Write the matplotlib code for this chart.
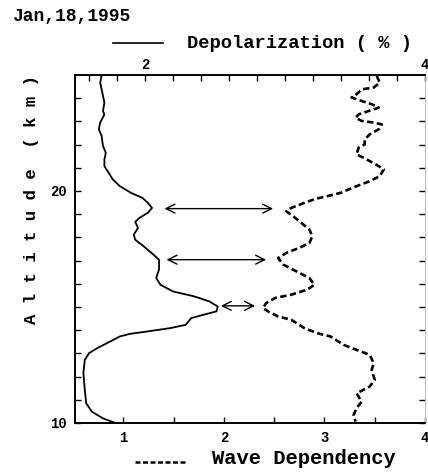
import numpy as np
import matplotlib.pyplot as plt
from matplotlib.lines import Line2D

FONT = ['Liberation Mono', 'DejaVu Sans Mono']

# depolarization (%) profile, read against the top axis
depol_alt = [25.0, 24.67, 24.38, 24.10, 23.81, 23.45, 23.30, 22.95, 22.66, 22.37,
             21.94, 21.65, 21.36, 21.07, 20.79, 20.50, 20.21, 19.92, 19.71, 19.49,
             19.27, 19.06, 18.84, 18.67, 18.41, 18.12, 17.90, 17.62, 17.26, 17.04,
             16.61, 16.25, 15.96, 15.67, 15.46, 15.24, 15.02, 14.81, 14.67, 14.52,
             14.23, 14.09, 13.94, 13.84, 13.73, 13.51, 13.23, 13.01, 12.72, 12.15,
             11.43, 10.85, 10.49, 10.20, 10.0]
depol_val = [1.69, 1.68, 1.69, 1.70, 1.71, 1.70, 1.71, 1.68, 1.67, 1.69,
             1.70, 1.72, 1.71, 1.71, 1.74, 1.77, 1.82, 1.90, 1.98, 2.02,
             2.05, 2.02, 1.96, 1.93, 1.95, 1.92, 1.93, 1.99, 2.06, 2.10,
             2.10, 2.08, 2.11, 2.20, 2.35, 2.46, 2.52, 2.51, 2.42, 2.33,
             2.29, 2.18, 2.01, 1.89, 1.82, 1.75, 1.66, 1.60, 1.57, 1.56,
             1.57, 1.58, 1.62, 1.70, 1.79]

# wave dependency profile, read against the bottom axis
wave_alt = [24.96, 24.67, 24.46, 24.38, 24.17, 24.03, 23.88, 23.74, 23.59, 23.45,
            23.30, 23.16, 23.02, 22.95, 22.87, 22.66, 22.44, 22.22, 22.01, 21.87,
            21.58, 21.43, 21.29, 21.07, 20.93, 20.64, 20.42, 20.21, 19.92, 19.78,
            19.66, 19.49, 19.27, 19.13, 18.91, 18.63, 18.34, 18.05, 17.76, 17.55,
            17.33, 17.11, 16.83, 16.54, 16.25, 15.96, 15.75, 15.53, 15.39, 15.17,
            14.95, 14.81, 14.59, 14.45, 14.09, 13.87, 13.73, 13.37, 13.15, 12.94,
            12.58, 12.29, 11.86, 11.57, 11.28, 10.92, 10.64, 10.35, 10.06]
wave_val = [3.52, 3.55, 3.49, 3.37, 3.32, 3.27, 3.37, 3.47, 3.54, 3.44,
            3.34, 3.31, 3.37, 3.49, 3.57, 3.54, 3.45, 3.40, 3.40, 3.34,
            3.32, 3.39, 3.45, 3.54, 3.59, 3.55, 3.45, 3.32, 3.16, 3.03,
            2.91, 2.80, 2.67, 2.62, 2.69, 2.77, 2.85, 2.88, 2.85, 2.75,
            2.62, 2.54, 2.59, 2.72, 2.85, 2.90, 2.83, 2.67, 2.51, 2.42,
            2.39, 2.44, 2.54, 2.67, 2.80, 2.93, 3.06, 3.19, 3.32, 3.45,
            3.49, 3.47, 3.50, 3.45, 3.32, 3.37, 3.32, 3.29, 3.31]

# double arrows joining the matching layers (bottom axis units)
arrow_alt = [19.24, 17.04, 15.05]
arrow_left = [1.41, 1.43, 1.97]
arrow_right = [2.49, 2.42, 2.31]

fig = plt.figure(figsize=(4.28, 4.74), dpi=100)
ax = fig.add_axes([75 / 428, 51 / 474, 350 / 428, 348 / 474])
ax2 = ax.twiny()

ax.plot(wave_val, wave_alt, color='black', lw=1.9, ls=(0, (2.4, 1.3)))
ax2.plot(depol_val, depol_alt, color='black', lw=1.3)

for y, x0, x1 in zip(arrow_alt, arrow_left, arrow_right):
    ax.annotate('', xy=(x1, y), xytext=(x0, y),
                arrowprops=dict(arrowstyle='<->', lw=1.0, color='black',
                                shrinkA=0, shrinkB=0, mutation_scale=16))

ax.set_xlim(0.52, 4.0)
ax.set_ylim(10, 25)
ax2.set_xlim(1.5, 4.0)

ax.set_xticks([1, 2, 3, 4])
ax.set_xticks([1.5, 2.5, 3.5], minor=True)
ax.set_yticks([10, 20])
ax.set_yticks(np.arange(11, 25), minor=True)
ax2.set_xticks([2, 4])
ax2.set_xticks([1.6, 1.8, 2.2, 2.4, 2.6, 2.8, 3.0, 3.2, 3.4, 3.6, 3.8], minor=True)

ax.tick_params(which='both', direction='in', length=4, width=1, right=True,
               labelsize=10, pad=6)
ax2.tick_params(which='both', direction='in', length=4, width=1,
                labelsize=10, pad=2)
for a in (ax, ax2):
    for lab in a.get_xticklabels() + a.get_yticklabels():
        lab.set_family(FONT)
        lab.set_weight('bold')
    for s in a.spines.values():
        s.set_linewidth(1.2)
    a.spines['right'].set_color('#bbbbbb')
    a.spines['right'].set_linewidth(0.6)

fig.text(32 / 428, 1 - 200 / 474, 'A l t i t u d e  ( k m )', rotation=90,
         ha='center', va='center', family=FONT, weight='bold', fontsize=12.5)
fig.text(12 / 428, 1 - 17 / 474, 'Jan,18,1995', ha='left', va='center',
         family=FONT, weight='bold', fontsize=13)

fig.add_artist(Line2D([113 / 428, 163 / 428], [1 - 43 / 474] * 2,
                      transform=fig.transFigure, color='black', lw=1.2))
fig.text(187 / 428, 1 - 43 / 474, 'Depolarization ( % )', ha='left', va='center',
         family=FONT, weight='bold', fontsize=13.5)
fig.add_artist(Line2D([135 / 428, 185 / 428], [1 - 462 / 474] * 2,
                      transform=fig.transFigure, color='black', lw=1.8,
                      ls=(0, (2, 1))))
fig.text(212 / 428, 1 - 458 / 474, 'Wave Dependency', ha='left', va='center',
         family=FONT, weight='bold', fontsize=14.8)

fig.savefig('out.png', dpi=100)
